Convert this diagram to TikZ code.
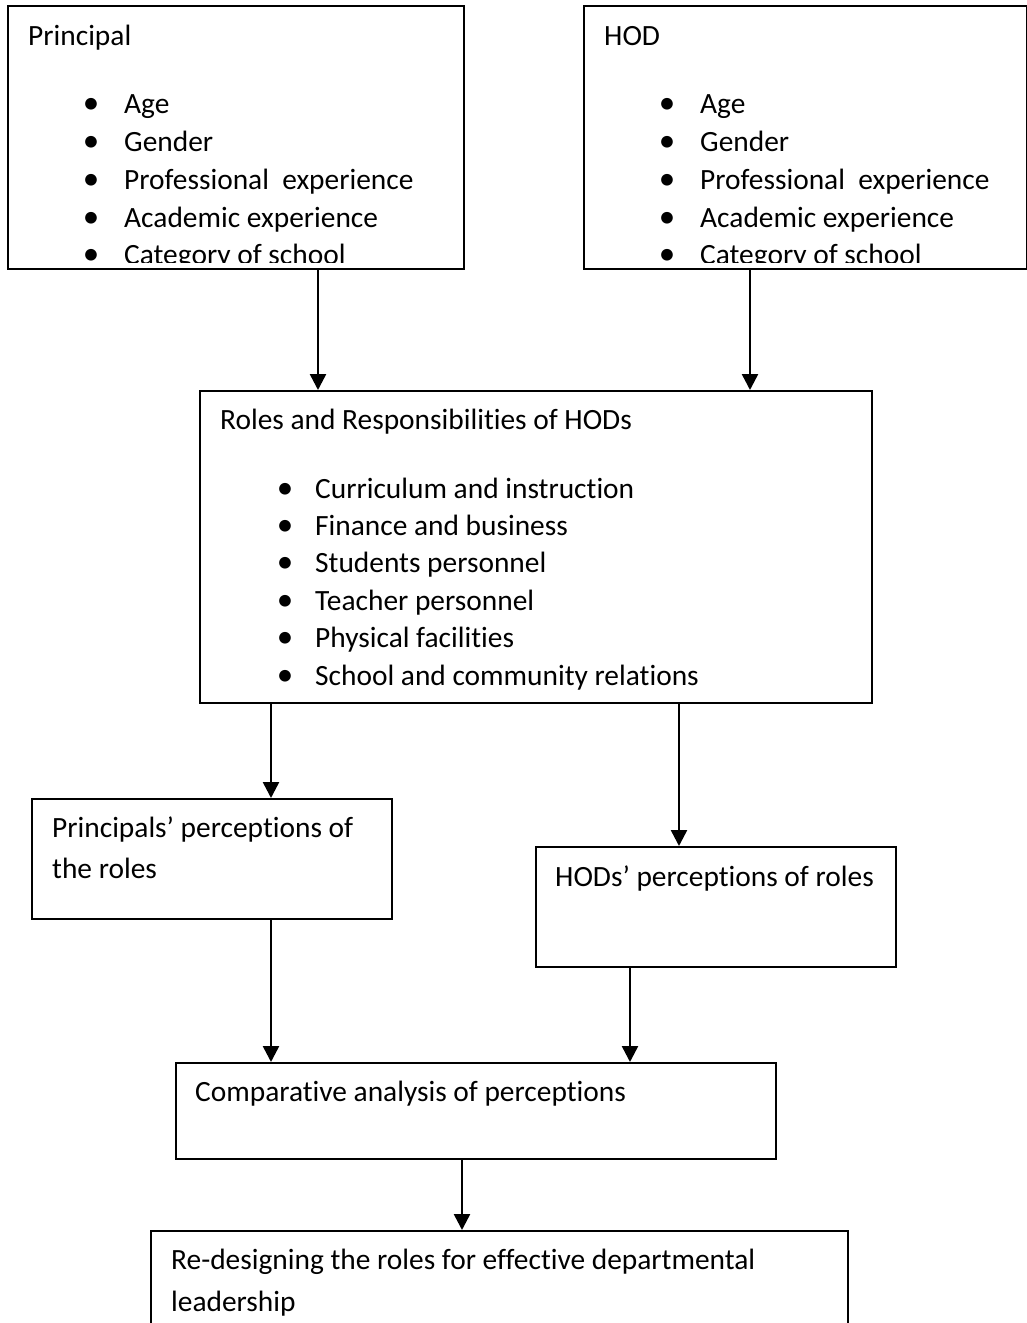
\documentclass[tikz,border=0pt]{standalone}
\usepackage{fontspec}
\setmainfont{Carlito}[Ligatures={NoCommon,NoRare,NoContextual}]
\usetikzlibrary{arrows.meta}
\tikzset{
  box/.style={draw, line width=2pt, rectangle, inner sep=0pt, anchor=north west},
  txt/.style={anchor=base west, inner sep=0pt, font=\fontsize{29.4}{37.3}\selectfont},
  bul/.style={anchor=base, inner sep=0pt, font=\fontsize{33}{37.3}\selectfont},
  arr/.style={line width=2.5pt, -{Triangle[length=16pt,width=16pt]}}
}
\newcommand{\boxat}[5]{\node[box, minimum width=#4pt, minimum height=#5pt] (#1) at (#2,#3) {};}
\begin{document}
\begin{tikzpicture}[x=1pt,y=-1pt]
\useasboundingbox (0,0) rectangle (1027,1323);
\clip (0,0) rectangle (1027,1323);
\fill[white] (0,0) rectangle (1027,1323);
% boxes
\boxat{pr}{7}{5}{456}{263}
\boxat{hd}{583}{5}{443}{263}
\boxat{ro}{199}{390}{672}{312}
\boxat{pp}{31}{798}{360}{120}
\boxat{hp}{535}{846}{360}{120}
\boxat{ca}{175}{1062}{600}{96}
\boxat{rd}{150}{1230}{697}{130}
% Principal text
\begin{scope}
\clip (pr.north west) rectangle ([yshift=8pt]pr.south east);
\node[txt] (prt) at (28,45) {Principal};
\foreach \y/\t [count=\i] in {113/Age,151/Gender,189/Professional\ \ experience,227/Academic experience,264/Category of school}{
  \node[bul] (prb\i) at (91,\y) {•};
  \node[txt] (pri\i) at (124,\y) {\t};
}
\end{scope}
% HOD text
\begin{scope}
\clip (hd.north west) rectangle ([yshift=8pt]hd.south east);
\node[txt] (hdt) at (604,45) {HOD};
\foreach \y/\t [count=\i] in {113/Age,151/Gender,189/Professional\ \ experience,227/Academic experience,264/Category of school}{
  \node[bul] (hdb\i) at (667,\y) {•};
  \node[txt] (hdi\i) at (700,\y) {\t};
}
\end{scope}
% Roles text
\node[txt] (rot) at (220,429) {Roles and Responsibilities of HODs};
\foreach \y/\t [count=\i] in {498/Curriculum and instruction,535/Finance and business,572/Students personnel,610/Teacher personnel,647/Physical facilities,685/School and community relations}{
  \node[bul] (rob\i) at (285,\y) {•};
  \node[txt] (roi\i) at (315,\y) {\t};
}
% other texts
\node[txt] (ppt1) at (52,837) {Principals’ perceptions of};
\node[txt] (ppt2) at (52,878) {the roles};
\node[txt] (hpt) at (555,886) {HODs’ perceptions of roles};
\node[txt] (cat) at (195,1101) {Comparative analysis of perceptions};
\node[txt] (rdt1) at (171,1269) {Re-designing the roles for effective departmental};
\node[txt] (rdt2) at (171,1311) {leadership};
% connector x positions
\coordinate (x1) at (318,0);
\coordinate (x2) at (750,0);
\coordinate (x3) at (271,0);
\coordinate (x4) at (679,0);
\coordinate (x5) at (630,0);
\coordinate (x6) at (462,0);
\draw[arr] (pr.south -| x1) -- (ro.north -| x1);
\draw[arr] (hd.south -| x2) -- (ro.north -| x2);
\draw[arr] (ro.south -| x3) -- (pp.north -| x3);
\draw[arr] (ro.south -| x4) -- (hp.north -| x4);
\draw[arr] (pp.south -| x3) -- (ca.north -| x3);
\draw[arr] (hp.south -| x5) -- (ca.north -| x5);
\draw[arr] (ca.south -| x6) -- (rd.north -| x6);
\end{tikzpicture}
\end{document}
